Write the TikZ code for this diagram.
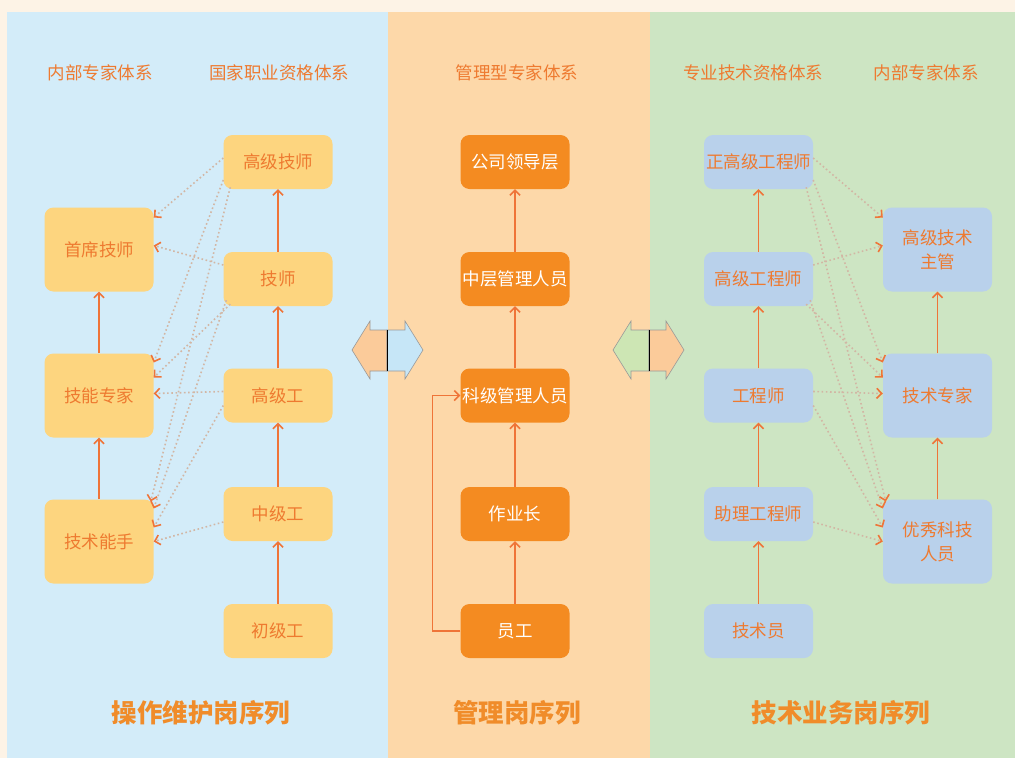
\documentclass[tikz,border=0pt]{standalone}
\usepackage{fontspec}
\setmainfont{Noto Sans CJK SC}
\usepackage{tikz}
\usetikzlibrary{arrows.meta}

\definecolor{topbg}{HTML}{FDF3E6}
\definecolor{leftbg}{HTML}{D3ECF9}
\definecolor{midbg}{HTML}{FDD8A9}
\definecolor{rightbg}{HTML}{CDE5C3}
\definecolor{ybox}{HTML}{FDD57F}
\definecolor{obox}{HTML}{F48B21}
\definecolor{bbox}{HTML}{B9D1EB}
\definecolor{txto}{HTML}{EE7A30}
\definecolor{titleo}{HTML}{F08C2A}
\definecolor{lineo}{HTML}{EF7438}
\definecolor{dotc}{HTML}{D2B6A4}
\definecolor{arrL}{HTML}{FBCB9A}
\definecolor{arrB}{HTML}{C6E6F7}
\definecolor{arrG}{HTML}{CDE6B4}

\begin{document}
\begin{tikzpicture}[x=1pt,y=-1pt,
	box/.style={rounded corners=9pt,minimum width=109pt,minimum height=54pt,inner sep=0pt,align=center,font=\fontsize{17.5}{24}\selectfont},
	tallbox/.style={box,minimum height=84pt},
	ynode/.style={fill=ybox,text=txto},
	onode/.style={fill=obox,text=white},
	bnode/.style={fill=bbox,text=txto},
	head/.style={text=txto,font=\fontsize{17.5}{20}\selectfont},
	title/.style={text=titleo,font=\fontsize{25.5}{28}\selectfont\bfseries},
	uparrow/.style={draw=lineo,line width=1.5pt,-{Straight Barb[length=5pt,width=10pt]}},
	dotarrow/.style={draw=dotc,line width=1.6pt,dash pattern=on 1.6pt off 2.6pt,-{Straight Barb[length=5pt,width=10pt,color=lineo,line width=1.6pt]}},
	halfarrow/.style={draw=gray!80,line width=0.6pt}]

	% background panels
	\fill[topbg] (0,0) rectangle (1015,758);
	\fill[leftbg] (7,12) rectangle (388,758);
	\fill[midbg] (388,12) rectangle (650,758);
	\fill[rightbg] (650,12) rectangle (1015,758);

	% headers
	\node[head] (h1) at (100,73)  {内部专家体系};
	\node[head] (h2) at (279,73)  {国家职业资格体系};
	\node[head] (h3) at (517,73)  {管理型专家体系};
	\node[head] (h4) at (753,73)  {专业技术资格体系};
	\node[head] (h5) at (926,73)  {内部专家体系};

	% operation sequence
	\node[tallbox,ynode] (sxjs) at (99,249.5)  {首席技师};
	\node[tallbox,ynode] (jnzj) at (99,395.5)  {技能专家};
	\node[tallbox,ynode] (jsns) at (99,541.5)  {技术能手};
	\node[box,ynode] (gjjs) at (278,162)   {高级技师};
	\node[box,ynode] (js)   at (278,279)   {技师};
	\node[box,ynode] (gjg)  at (278,395.5) {高级工};
	\node[box,ynode] (zjg)  at (278,514)   {中级工};
	\node[box,ynode] (cjg)  at (278,631)   {初级工};

	% management sequence
	\node[box,onode] (ldc)  at (515,162)   {公司领导层};
	\node[box,onode] (zcgl) at (515,279)   {中层管理人员};
	\node[box,onode] (kjgl) at (515,395.5) {科级管理人员};
	\node[box,onode] (zyz)  at (515,514)   {作业长};
	\node[box,onode] (yg)   at (515,631)   {员工};

	% technical sequence
	\node[box,bnode] (zgg)  at (758.5,162)   {正高级工程师};
	\node[box,bnode] (ggc)  at (758.5,279)   {高级工程师};
	\node[box,bnode] (gcs)  at (758.5,395.5) {工程师};
	\node[box,bnode] (zlgc) at (758.5,514)   {助理工程师};
	\node[box,bnode] (jsy)  at (758.5,631)   {技术员};
	\node[tallbox,bnode] (gjzg) at (937.5,249.5) {高级技术\\主管};
	\node[tallbox,bnode] (jszj) at (937.5,395.5) {技术专家};
	\node[tallbox,bnode] (yxry) at (937.5,541.5) {优秀科技\\人员};

	% titles
	\node[title] (t1) at (201,713) {操作维护岗序列};
	\node[title] (t2) at (517,713) {管理岗序列};
	\node[title] (t3) at (841,713) {技术业务岗序列};

	% solid arrows
	\draw[uparrow] (jnzj) -- (sxjs);
	\draw[uparrow] (jsns) -- (jnzj);
	\draw[uparrow] (js) -- (gjjs);
	\draw[uparrow] (gjg) -- (js);
	\draw[uparrow] (zjg) -- (gjg);
	\draw[uparrow] (cjg) -- (zjg);
	\draw[uparrow] (zcgl) -- (ldc);
	\draw[uparrow] (kjgl) -- (zcgl);
	\draw[uparrow] (zyz) -- (kjgl);
	\draw[uparrow] (yg) -- (zyz);
	\draw[uparrow] (yg.west) -- ++(-28,0) |- (kjgl.west);
	\draw[uparrow] (ggc) -- (zgg);
	\draw[uparrow] (gcs) -- (ggc);
	\draw[uparrow] (zlgc) -- (gcs);
	\draw[uparrow] (jsy) -- (zlgc);
	\draw[uparrow] (jszj) -- (gjzg);
	\draw[uparrow] (yxry) -- (jszj);

	% dotted arrows, left
	\draw[dotarrow] ([yshift=4pt]gjjs.west) -- ([yshift=32pt]sxjs.east);
	\draw[dotarrow] ([yshift=14pt]js.west) -- ([yshift=4pt]sxjs.east);
	\draw[dotarrow] ([yshift=-18pt]gjjs.west) -- ([yshift=33pt]jnzj.east);
	\draw[dotarrow] ([xshift=7pt,yshift=2pt]gjjs.south west) -- ([xshift=-3pt,yshift=40pt]jsns.east);
	\draw[dotarrow] ([xshift=7pt,yshift=2pt]js.south west) -- ([yshift=18pt]jnzj.east);
	\draw[dotarrow] ([xshift=3pt,yshift=6pt]js.south west) -- ([yshift=33pt]jsns.east);
	\draw[dotarrow] ([yshift=4pt]gjg.west) -- ([yshift=2pt]jnzj.east);
	\draw[dotarrow] ([yshift=-10pt]gjg.west) -- ([yshift=14pt]jsns.east);
	\draw[dotarrow] ([yshift=-8pt]zjg.west) -- (jsns.east);

	% dotted arrows, right
	\draw[dotarrow] ([yshift=4pt]zgg.east) -- ([yshift=32pt]gjzg.west);
	\draw[dotarrow] ([yshift=14pt]ggc.east) -- ([yshift=4pt]gjzg.west);
	\draw[dotarrow] ([yshift=-18pt]zgg.east) -- ([yshift=33pt]jszj.west);
	\draw[dotarrow] ([xshift=-7pt,yshift=2pt]zgg.south east) -- ([xshift=3pt,yshift=40pt]yxry.west);
	\draw[dotarrow] ([xshift=-7pt,yshift=2pt]ggc.south east) -- ([yshift=18pt]jszj.west);
	\draw[dotarrow] ([xshift=-3pt,yshift=6pt]ggc.south east) -- ([yshift=33pt]yxry.west);
	\draw[dotarrow] ([yshift=4pt]gcs.east) -- ([yshift=2pt]jszj.west);
	\draw[dotarrow] ([yshift=-10pt]gcs.east) -- ([yshift=14pt]yxry.west);
	\draw[dotarrow] ([yshift=-8pt]zlgc.east) -- (yxry.west);

	% double arrows between panels
	\filldraw[halfarrow,fill=arrL] (387,330) -- (370,330) -- (370,321) -- (352,350) -- (370,379) -- (370,371) -- (387,371) -- cycle;
	\filldraw[halfarrow,fill=arrB] (387,330) -- (405,330) -- (405,321) -- (423,350) -- (405,379) -- (405,371) -- (387,371) -- cycle;
	\draw[black,line width=1pt] (387,330) -- (387,371);
	\filldraw[halfarrow,fill=arrG] (649,330) -- (631,330) -- (631,321) -- (613,350) -- (631,379) -- (631,371) -- (649,371) -- cycle;
	\filldraw[halfarrow,fill=arrL] (649,330) -- (666,330) -- (666,321) -- (684,350) -- (666,379) -- (666,371) -- (649,371) -- cycle;
	\draw[black,line width=1pt] (649,330) -- (649,371);
\end{tikzpicture}
\end{document}
